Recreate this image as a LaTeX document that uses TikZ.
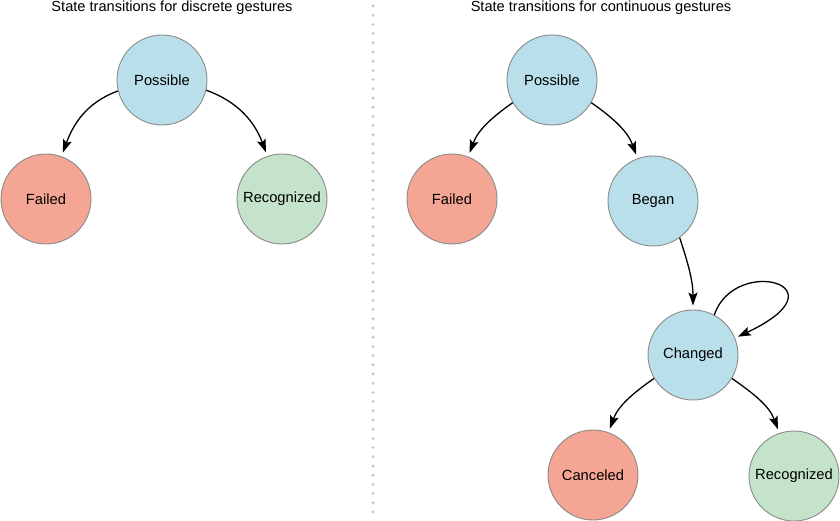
\documentclass[tikz,border=0pt]{standalone}
\usepackage{fontspec}
\setmainfont{Liberation Sans}
\usetikzlibrary{arrows.meta}
\definecolor{stblue}{HTML}{B9DFEA}
\definecolor{stred}{HTML}{F4A593}
\definecolor{stgreen}{HTML}{C5E3CA}
\definecolor{stborder}{HTML}{8A8A8A}
\definecolor{stdots}{HTML}{C8C8C8}
\tikzset{
  state/.style={circle, draw=stborder, line width=0.9pt, minimum size=90pt, inner sep=0pt, font=\fontsize{14.7}{16}\selectfont},
  bluestate/.style={state, fill=stblue},
  redstate/.style={state, fill=stred},
  greenstate/.style={state, fill=stgreen},
  trans/.style={line width=1.3pt, shorten >=4pt, -{Stealth[length=13pt,width=9pt,inset=2.5pt]}},
  title/.style={font=\fontsize{14.6}{16}\selectfont, inner sep=0pt}
}
\begin{document}
\begin{tikzpicture}[x=1pt,y=-1pt]
\useasboundingbox (0,0) rectangle (840,521);
\fill[white] (0,0) rectangle (840,521);
% titles
\node[title] (t1) at (172,8) {State transitions for discrete gestures};
\node[title] (t2) at (601,8) {State transitions for continuous gestures};
% divider
\coordinate (d1) at (373,6);
\coordinate (d2) at (373,521);
\draw[stdots, line width=3.2pt, line cap=round, dash pattern=on 0pt off 9.2pt] (d1) -- (d2);
% left panel
\node[bluestate] (lp) at (162,80) {Possible};
\node[redstate] (lf) at (46,199) {Failed};
\node[greenstate] (lr) at (282,199) {Recognized};
\draw[trans] (lp.194) to[out=200,in=70] (lf.70);
\draw[trans] (lp.-13) to[out=-20,in=110] (lr.109);
% right panel
\node[bluestate] (rp) at (552,80) {Possible};
\node[redstate] (rf) at (452,199) {Failed};
\node[bluestate] (rb) at (653,201) {Began};
\node[bluestate] (rc) at (693,355) {Changed};
\node[redstate] (rx) at (593,475) {Canceled};
\node[greenstate] (rr) at (794,476) {Recognized};
\draw[trans] (rp.210) to[out=215,in=70] (rf.69);
\draw[trans] (rp.-30) to[out=-35,in=110] (rb.110);
\draw[trans] (rb.-54) to[out=-72,in=90] (rc.north);
\draw[trans, shorten >=3pt] (rc.62) .. controls +(20,-60) and +(113,-53) .. (rc.22);
\draw[trans] (rc.211) to[out=215,in=70] (rx.70);
\draw[trans] (rc.-31) to[out=-35,in=110] (rr.109);
\end{tikzpicture}
\end{document}
